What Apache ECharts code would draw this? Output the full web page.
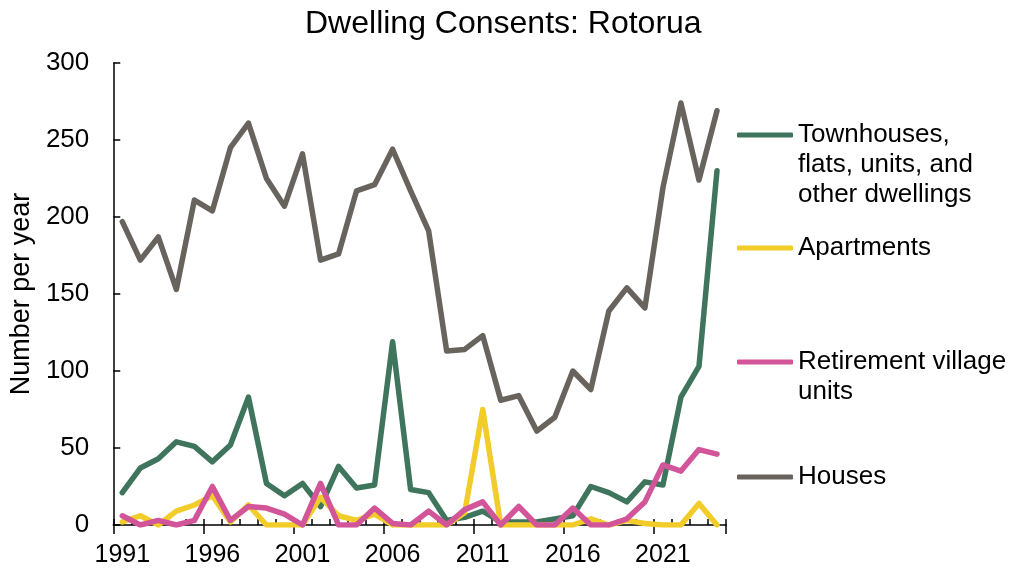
<!DOCTYPE html>
<html>
<head>
<meta charset="utf-8">
<script src="https://cdn.jsdelivr.net/npm/echarts@6/dist/echarts.min.js"></script>
<style>
  html, body { margin: 0; padding: 0; background: #fff; }
  #chart { width: 1021px; height: 574px; }
</style>
</head>
<body>
<div id="chart"></div>
<script>
// Years on the category axis
const years = ['1991','1992','1993','1994','1995','1996','1997','1998','1999','2000',
  '2001','2002','2003','2004','2005','2006','2007','2008','2009','2010',
  '2011','2012','2013','2014','2015','2016','2017','2018','2019','2020',
  '2021','2022','2023','2024'];

// Consents issued per year, by dwelling type
const townhouses = [21,37,43,54,51,41,52,83,27,19,27,12,38,24,26,119,23,21,3,5,9,2,2,2,4,6,25,21,15,28,26,83,103,230];
const apartments = [2,6,0,9,13,19,2,13,0,0,0,18,6,3,7,0,0,0,0,8,75,0,0,0,0,0,4,0,3,1,0,0,14,0];
const retirement = [6,0,3,0,3,25,3,12,11,7,0,27,0,0,11,1,0,9,0,10,15,0,12,0,0,11,0,0,4,15,39,35,49,46];
const houses = [197,172,187,153,211,204,245,261,225,207,241,172,176,217,221,244,217,191,113,114,123,81,84,61,70,100,88,139,154,141,219,274,224,269];

const seriesNames = ['Townhouses, flats, units, and other dwellings', 'Apartments', 'Retirement village units', 'Houses'];
const yTicks = { min: 0, max: 300, step: 50 };

const FONT = 'Liberation Sans, Arial, sans-serif';
const colors = {
  townhouses: '#3f745d',
  apartments: '#f2cd2a',
  retirement: '#d2559a',
  houses: '#68635d'
};

function lineSeries(name, data, color, z) {
  return {
    name: name,
    type: 'line',
    data: data,
    xAxisIndex: 0,
    showSymbol: false,
    symbol: 'none',
    color: color,
    z: z,
    lineStyle: { width: 5.5, color: color, join: 'round', cap: 'round' },
    emphasis: { disabled: true }
  };
}

// One legend block per series so each entry can sit at its own height.
// Wrapped labels get blank lines above them so the key line stays level
// with the first line of text.
const LINE_H = 30;
function legendBlock(name, lines, keyY) {
  const pad = new Array(lines.length).join('\n');
  const label = pad + lines.join('\n');
  const blockH = (2 * lines.length - 1) * LINE_H;
  return {
    data: [name],
    left: 737,
    top: keyY - blockH / 2,
    padding: 0,
    icon: 'roundRect',
    itemWidth: 56,
    itemHeight: 5,
    selectedMode: false,
    formatter: function () { return label; },
    textStyle: { fontFamily: FONT, fontSize: 26, color: '#000', lineHeight: LINE_H }
  };
}

const chart = echarts.init(document.getElementById('chart'), null, { renderer: 'canvas' });

chart.setOption({
  animation: false,
  backgroundColor: '#fff',
  title: {
    text: 'Dwelling Consents: Rotorua',
    left: 305,
    top: 8,
    padding: 0,
    textStyle: { fontFamily: FONT, fontSize: 32, fontWeight: 'normal', color: '#000' }
  },
  legend: [
    legendBlock(seriesNames[0], ['Townhouses,', 'flats, units, and', 'other dwellings'], 135),
    legendBlock(seriesNames[1], ['Apartments'], 248),
    legendBlock(seriesNames[2], ['Retirement village', 'units'], 362),
    legendBlock(seriesNames[3], ['Houses'], 477)
  ],
  grid: { left: 113, right: 295, top: 63, bottom: 49, containLabel: false },
  xAxis: [
    {
      type: 'category',
      data: years,
      boundaryGap: true,
      axisLine: { lineStyle: { color: '#000', width: 1.5 } },
      axisTick: { show: true, interval: 0, inside: true, length: 6, lineStyle: { color: '#000', width: 1.5 } },
      axisLabel: { interval: 4, fontFamily: FONT, fontSize: 25, color: '#000', margin: 18 },
      splitLine: { show: false }
    },
    {
      // longer outward ticks every fifth year
      type: 'category',
      data: years,
      boundaryGap: true,
      position: 'bottom',
      axisLine: { show: false },
      axisTick: { show: true, interval: 4, inside: false, length: 9, lineStyle: { color: '#000', width: 1.5 } },
      axisLabel: { show: false },
      splitLine: { show: false }
    }
  ],
  yAxis: {
    type: 'value',
    min: yTicks.min,
    max: yTicks.max,
    interval: yTicks.step,
    name: 'Number per year',
    nameLocation: 'middle',
    nameRotate: 90,
    nameGap: 67,
    nameTextStyle: { fontFamily: FONT, fontSize: 27, color: '#000' },
    axisLine: { show: true, lineStyle: { color: '#000', width: 1.5 } },
    axisTick: { show: true, inside: true, length: 7, lineStyle: { color: '#000', width: 1.5 } },
    axisLabel: { fontFamily: FONT, fontSize: 26, color: '#000', margin: 24 },
    splitLine: { show: false }
  },
  series: [
    lineSeries(seriesNames[3], houses, colors.houses, 2),
    lineSeries(seriesNames[0], townhouses, colors.townhouses, 3),
    lineSeries(seriesNames[1], apartments, colors.apartments, 4),
    lineSeries(seriesNames[2], retirement, colors.retirement, 5)
  ]
});
</script>
</body>
</html>
